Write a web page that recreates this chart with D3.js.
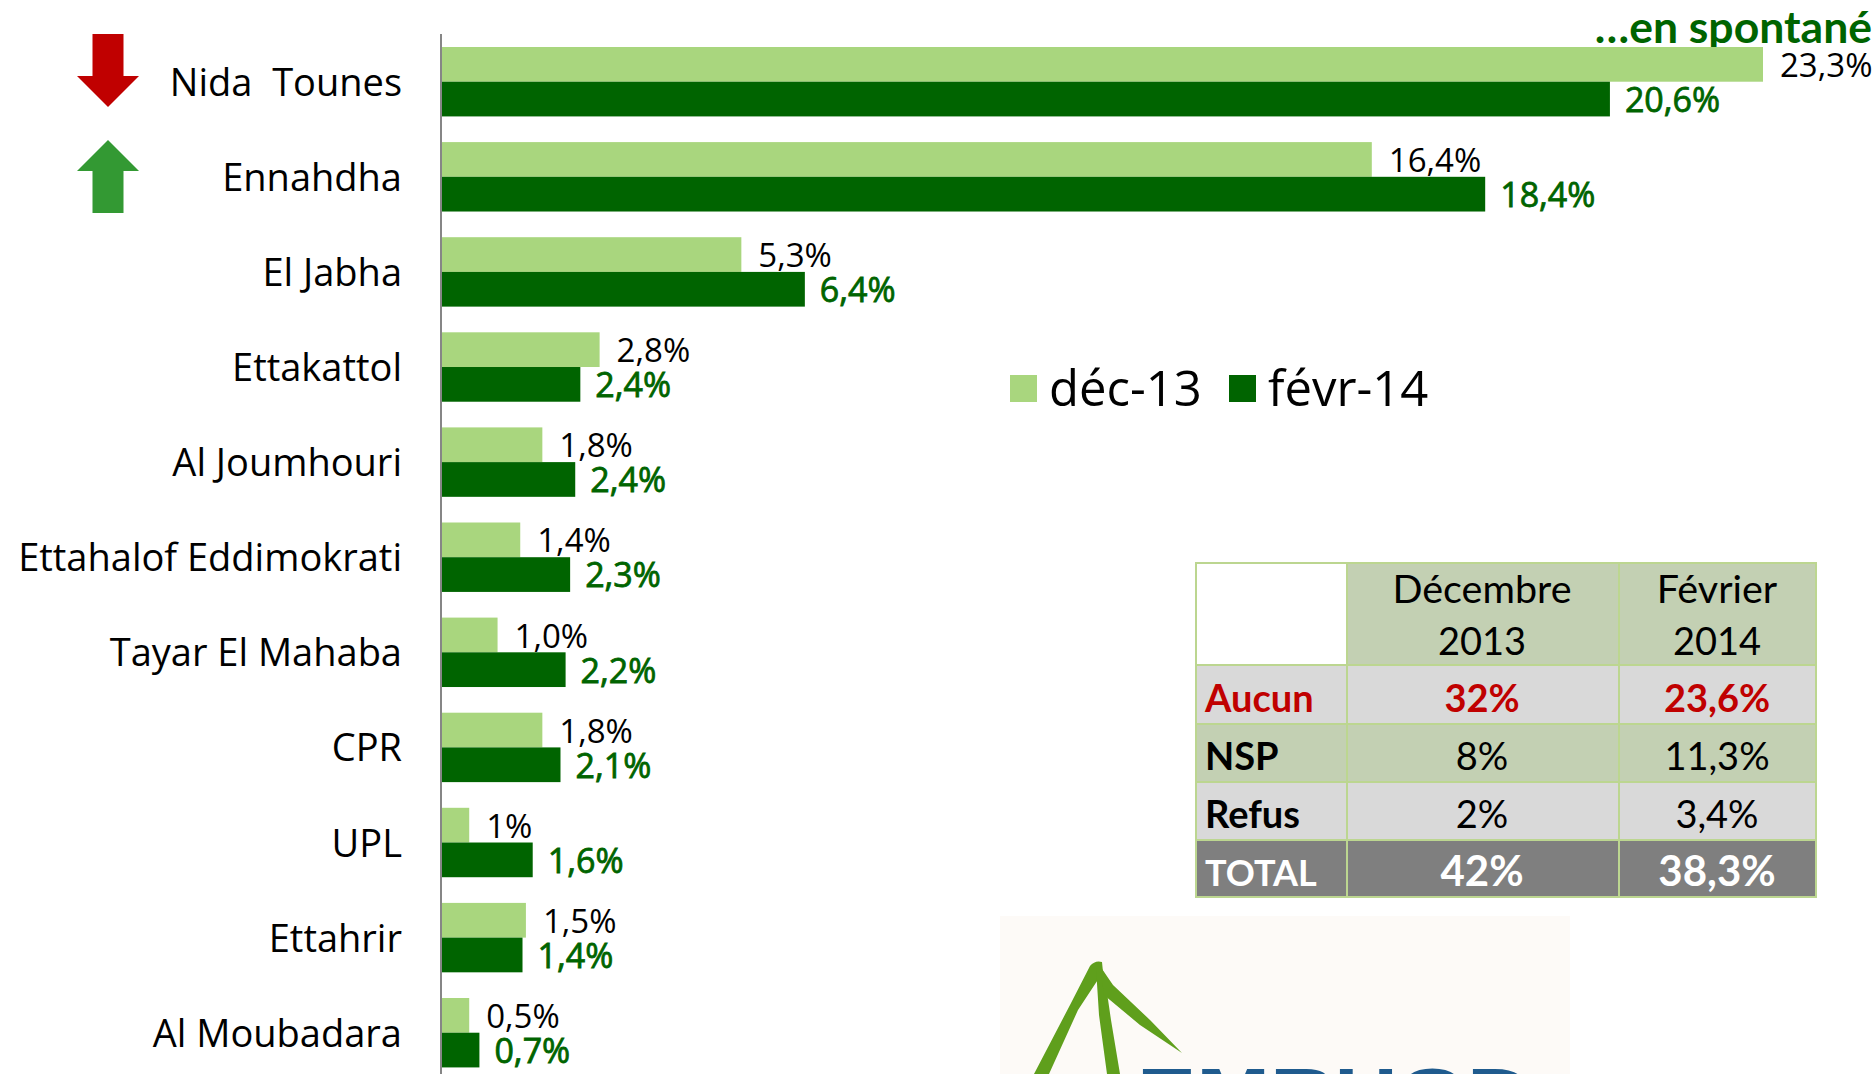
<!DOCTYPE html>
<html><head><meta charset="utf-8">
<script src="https://cdn.jsdelivr.net/npm/d3@7"></script>
<style>html,body{margin:0;padding:0;background:#fff;overflow:hidden}svg{display:block}</style>
</head><body><svg id="c" width="1876" height="1074"></svg>
<script>
const categories=["Nida  Tounes","Ennahdha","El Jabha","Ettakattol","Al Joumhouri","Ettahalof Eddimokrati","Tayar El Mahaba","CPR","UPL","Ettahrir","Al Moubadara"];
const dec13=[23.3,16.4,5.28,2.78,1.77,1.38,0.98,1.77,0.48,1.48,0.48];
const fev14=[20.6,18.4,6.4,2.44,2.35,2.26,2.18,2.09,1.6,1.42,0.66];
const dec13Labels=["23,3%","16,4%","5,3%","2,8%","1,8%","1,4%","1,0%","1,8%","1%","1,5%","0,5%"];
const fev14Labels=["20,6%","18,4%","6,4%","2,4%","2,4%","2,3%","2,2%","2,1%","1,6%","1,4%","0,7%"];
const seriesNames=["déc-13","févr-14"];
const tableColumns=["","Décembre\n2013","Février\n2014"];
const tableRows=[["Aucun","32%","23,6%"],["NSP","8%","11,3%"],["Refus","2%","3,4%"],["TOTAL","42%","38,3%"]];

const LIGHT="#a9d67e",DARK="#006400",SANS="'Open Sans','Liberation Sans',sans-serif",CAL="Lato,'Open Sans',sans-serif";
const svg=d3.select("#c");
const x=d3.scaleLinear().domain([0,23.3]).range([442,1763]);
const y=d3.scaleBand().domain(categories).range([34.16,1080.26]).paddingInner(.27).paddingOuter(.135);

svg.append("text").attr("x",1872).attr("y",43).attr("text-anchor","end").attr("font-family",CAL).attr("font-weight",700)
  .attr("font-size",44.5).attr("fill",DARK).text("…en spontané");

svg.append("g").attr("transform","translate(441,0)")
  .call(d3.axisLeft(y).tickSize(0).tickPadding(39))
  .call(g=>{g.select(".domain").attr("d","M0,34V1074").attr("stroke","#868686").attr("stroke-width",2);
    g.selectAll("text").attr("font-family",SANS).attr("font-size",38).attr("fill","#000").attr("dy",null)
     .attr("y",14).style("white-space","pre");});

const half=y.bandwidth()/2;
const rows=svg.append("g").selectAll("g").data(categories).join("g").attr("transform",d=>`translate(0,${y(d)})`);
rows.append("rect").attr("x",x(0)).attr("y",0).attr("height",half).attr("width",(d,i)=>x(dec13[i])-x(0)).attr("fill",LIGHT);
rows.append("rect").attr("x",x(0)).attr("y",half).attr("height",half).attr("width",(d,i)=>x(fev14[i])-x(0)).attr("fill",DARK);
rows.append("text").attr("x",(d,i)=>x(dec13[i])+17).attr("y",30).attr("font-family",SANS).attr("font-size",33).attr("fill","#000").text((d,i)=>dec13Labels[i]);
rows.append("text").attr("x",(d,i)=>x(fev14[i])+15).attr("y",65).attr("font-family",SANS).attr("font-size",34).attr("fill",DARK)
  .attr("stroke",DARK).attr("stroke-width",.8).text((d,i)=>fev14Labels[i]);

const arrow=(pts,fill)=>svg.append("polygon").attr("points",pts.map(p=>p.join(",")).join(" ")).attr("fill",fill);
arrow([[92.5,34],[123.5,34],[123.5,76],[139,76],[108,107],[77,76],[92.5,76]],"#c00000");
arrow([[108,140],[139,171],[123.5,171],[123.5,213],[92.5,213],[92.5,171],[77,171]],"#339933");

const lg=svg.append("g");
[[1010,1049,LIGHT],[1229,1268,DARK]].forEach((l,i)=>{
  lg.append("rect").attr("x",l[0]).attr("y",375).attr("width",27).attr("height",27).attr("fill",l[2]);
  lg.append("text").attr("x",l[1]).attr("y",406).attr("font-family",SANS).attr("font-size",49).attr("fill","#000").text(seriesNames[i]);
});

const colX=[1196,1347,1619,1816],rowY=[563,665,724,782,840,897];
const BORDER="#bcd690";
const fills=["#d9d9d9","#c3d0b3","#d9d9d9","#7f7f7f"];
const T=svg.append("g");
for(let c=0;c<3;c++){T.append("rect").attr("x",colX[c]).attr("y",rowY[0]).attr("width",colX[c+1]-colX[c]).attr("height",rowY[1]-rowY[0])
  .attr("fill",c?"#c3d0b3":"#fff").attr("stroke",BORDER).attr("stroke-width",2);}
tableRows.forEach((r,ri)=>{r.forEach((v,c)=>{
  T.append("rect").attr("x",colX[c]).attr("y",rowY[ri+1]).attr("width",colX[c+1]-colX[c]).attr("height",rowY[ri+2]-rowY[ri+1])
   .attr("fill",fills[ri]).attr("stroke",BORDER).attr("stroke-width",2);
});});
const cx=[1205,1482,1717],base=[712,770,828,886];
tableColumns.forEach((h,c)=>{ if(!h)return; h.split("\n").forEach((s,k)=>{
  T.append("text").attr("x",cx[c]).attr("y",[603,655][k]).attr("text-anchor","middle").attr("font-family",CAL).attr("font-size",k?38:39.5).attr("fill","#000").text(s);
});});
tableRows.forEach((r,ri)=>r.forEach((v,c)=>{
  const col=ri===0?"#c00000":ri===3?"#fff":"#000";
  const bold=c===0||ri===0||ri===3;
  T.append("text").attr("x",cx[c]).attr("y",base[ri]).attr("text-anchor",c?"middle":"start").attr("font-family",CAL)
   .attr("font-weight",bold?700:400).attr("font-size",(ri===3&&c)?42:(ri===3?36:38)).attr("fill",col).text(v);
}));

const L=svg.append("g");
L.append("rect").attr("x",1000).attr("y",916).attr("width",570).attr("height",158).attr("fill","#fdfaf7");
const GR="#5f9f1c";
L.append("path").attr("d","M1090,966Q1095,960 1102,962L1103,972L1078,1010L1049,1074L1034,1074L1070,1005Z").attr("fill",GR);
L.append("path").attr("d","M1096,968L1104,972L1111,1020L1120,1074L1107,1074L1099,1015Z").attr("fill",GR);
L.append("path").attr("d","M1100,966L1113,985L1150,1020L1182,1053L1140,1025L1104,995Z").attr("fill",GR);
L.append("text").attr("x",1137).attr("y",1115).attr("textLength",394).attr("lengthAdjust","spacingAndGlyphs")
  .attr("font-family","'Liberation Sans',sans-serif").attr("font-weight",700).attr("font-size",66).attr("fill","#1f5b8e").text("EMRHOD");
</script></body></html>
